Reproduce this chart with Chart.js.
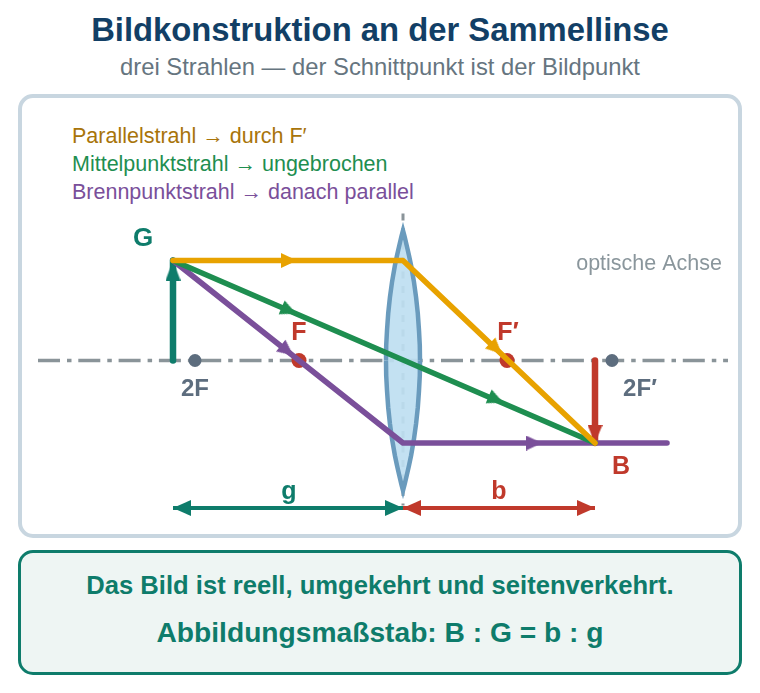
<!DOCTYPE html>
<html lang="de">
<head>
<meta charset="utf-8">
<title>Bildkonstruktion an der Sammellinse</title>
<script src="https://cdn.jsdelivr.net/npm/chart.js@4"></script>
<style>
  html, body { margin: 0; padding: 0; background: #fff; overflow: hidden; }
  body { width: 760px; height: 693px; position: relative; font-family: "Liberation Sans", Arial, sans-serif; }
  .txt { position: absolute; left: 0; width: 760px; text-align: center; white-space: nowrap; }
  #title { top: 10px; line-height: 40px; font-size: 32.8px; font-weight: bold; color: #123f66; }
  #subtitle { top: 53px; line-height: 28px; font-size: 23.8px; color: #66757f; }
  #panel { position: absolute; left: 18px; top: 94px; width: 716px; height: 436px; border: 4px solid #c8d6e0; border-radius: 15px; background: #fff; }
  #summary { position: absolute; left: 18px; top: 550px; width: 718px; height: 119px; border: 3px solid #0e7c6b; border-radius: 15px; background: #eef5f3; }
  #line1 { top: 569px; line-height: 32px; font-size: 25.6px; font-weight: bold; color: #0e7c6b; }
  #line2 { top: 613px; line-height: 38px; font-size: 28.2px; font-weight: bold; color: #0e7c6b; }
  .leg { position: absolute; left: 72px; line-height: 28px; font-size: 21.5px; white-space: nowrap; }
  #chart { position: absolute; left: 0; top: 0; }
</style>
</head>
<body>
<div class="txt" id="title">Bildkonstruktion an der Sammellinse</div>
<div class="txt" id="subtitle">drei Strahlen — der Schnittpunkt ist der Bildpunkt</div>
<div id="panel"></div>
<div id="summary"></div>
<div class="txt" id="line1">Das Bild ist reell, umgekehrt und seitenverkehrt.</div>
<div class="txt" id="line2">Abbildungsmaßstab: B : G = b : g</div>
<div class="leg" style="top:122px;color:#a8740a">Parallelstrahl → durch F′</div>
<div class="leg" style="top:150px;color:#1e8e50">Mittelpunktstrahl → ungebrochen</div>
<div class="leg" style="top:178px;color:#7a4f9a">Brennpunktstrahl → danach parallel</div>
<canvas id="chart" width="760" height="693"></canvas>
<script>
// alle Werte relativ zur Linsenmitte, x nach rechts, y nach oben
const axisLine = [[-365, 0], [325, 0]];
const lensAxis = [[0, 147], [0, -145]];

const lensTop = [[-17, 0], [-16.8, 15], [-16, 30], [-14.8, 47], [-13.1, 63], [-10.9, 79], [-8.1, 95], [-6, 105], [-3.7, 115], [-1.6, 124], [0, 130],
                 [1.6, 124], [3.7, 115], [6, 105], [8.1, 95], [10.9, 79], [13.1, 63], [14.8, 47], [16, 30], [16.8, 15], [17, 0]];
const lensBottom = [[-17, 0], [-16.8, -15], [-16, -30], [-14.8, -47], [-13.1, -63], [-10.9, -79], [-8.1, -95], [-6, -105], [-3.7, -115], [-1.6, -124], [0, -130],
                    [1.6, -124], [3.7, -115], [6, -105], [8.1, -95], [10.9, -79], [13.1, -63], [14.8, -47], [16, -30], [16.8, -15], [17, 0]];

const focusPoints = [[-104, 0], [104, 0]];
const doubleFocusPoints = [[-208, 0], [209, 0]];

const objectArrow = [[-230, 0], [-230, 100]];
const imageArrow = [[192, 0], [192, -82.5]];
const parallelRay = [[-230, 100], [0, 100], [192, -82.5]];
const centerRay = [[-230, 100], [192, -82.5]];
const focalRay = [[-230, 100], [0, -82.5], [264, -82.5]];
const objectDistance = [[-230, -147.5], [0, -147.5]];
const imageDistance = [[0, -147.5], [192, -147.5]];

const objectHead = [[-230, 90]];
const imageHead = [[192, -73.5]];
const parallelHeads = [[-114, 100], [93, 12]];
const parallelAngles = [90, 133.5];
const centerHeads = [[-114, 50], [93, -39]];
const centerAngles = [113.3, 113.3];
const focalHeads = [[-116, 10], [131, -82.5]];
const focalAngles = [128.4, 90];
const objectDistHeads = [[-221, -147.5], [-9, -147.5]];
const objectDistAngles = [-90, 90];
const imageDistHeads = [[9, -147.5], [183, -147.5]];
const imageDistAngles = [-90, 90];

const labelTexts = ['G', 'F', 'F′', '2F', '2F′', 'B', 'g', 'b', 'optische Achse'];
const labelX = [-260, -104, 105, -208, 237, 218, -114, 96, 319];
const labelY = [122, 27, 27, -29, -29, -107, -131.5, -131.5, 96];
const labelColors = ['#0e7c6b', '#c0392b', '#c0392b', '#5d6d7e', '#5d6d7e', '#c0392b', '#0e7c6b', '#c0392b', '#8a969c'];
const labelFonts = ['bold 26px', 'bold 25px', 'bold 25px', 'bold 24px', 'bold 24px', 'bold 25px', 'bold 25px', 'bold 25px', '21.5px'];
const labelAligns = ['center', 'center', 'center', 'center', 'center', 'center', 'center', 'center', 'right'];

const toXY = (pts) => pts.map(p => ({ x: p[0], y: p[1] }));

function line(pts, color, width, extra) {
    return Object.assign({
        type: 'scatter', showLine: true, data: toXY(pts), borderColor: color, borderWidth: width,
        pointRadius: 0, borderCapStyle: 'round', borderJoinStyle: 'round', fill: false, clip: false
    }, extra);
}

function marks(pts, color, radius, style, angles) {
    return {
        type: 'scatter', showLine: false, data: toXY(pts), pointStyle: style, pointRadius: radius,
        pointBackgroundColor: color, pointBorderWidth: 0, pointBorderColor: color, pointRotation: angles || 0, clip: false
    };
}

// Pfeilspitze als Bild, zeigt nach oben
function head(color, w, h) {
    const c = document.createElement('canvas');
    c.width = w;
    c.height = h;
    const g = c.getContext('2d');
    g.fillStyle = color;
    g.beginPath();
    g.moveTo(w / 2, 0);
    g.lineTo(w, h);
    g.lineTo(0, h);
    g.closePath();
    g.fill();
    return c;
}

const teal = '#0e7c6b', red = '#c0392b', yellow = '#e8a200', green = '#1e8e50', purple = '#7a4f9a', gray = '#8a9499', lens = '#6a9bbd';

// von hinten nach vorne
// langes borderDash bei der Linse: sonst nimmt Chart.js den Fast Path und die Spitze wird stumpf
const datasets = [
    line(axisLine, gray, 3.5, { borderDash: [22, 7, 4.5, 6.8], borderCapStyle: 'butt' }),
    line(lensAxis, gray, 3, { borderDash: [7, 7.5], borderCapStyle: 'butt' }),
    line(lensTop, lens, 4.5, { fill: '+1', backgroundColor: 'rgba(190,222,241,0.92)', borderCapStyle: 'butt', borderJoinStyle: 'miter', borderDash: [1000] }),
    line(lensBottom, lens, 4.5, { borderCapStyle: 'butt', borderJoinStyle: 'miter', borderDash: [1000] }),
    marks(focusPoints, red, 7.5, 'circle'),
    marks(doubleFocusPoints, '#5d6d7e', 6.5, 'circle'),
    line(objectArrow, teal, 6.5),
    marks(objectHead, teal, 10, head(teal, 15, 20)),
    line(imageArrow, red, 6.5),
    marks(imageHead, red, 10, head(red, 15, 18), 180),
    line(focalRay, purple, 5.6),
    line(centerRay, green, 5.6),
    line(parallelRay, yellow, 5.6),
    marks(parallelHeads, yellow, 10, head(yellow, 15, 16), parallelAngles),
    marks(centerHeads, green, 10, head(green, 15, 16), centerAngles),
    marks(focalHeads, purple, 10, head(purple, 15, 16), focalAngles),
    line(objectDistance, teal, 4, { borderCapStyle: 'butt' }),
    line(imageDistance, red, 4, { borderCapStyle: 'butt' }),
    marks(objectDistHeads, teal, 10, head(teal, 16, 18), objectDistAngles),
    marks(imageDistHeads, red, 10, head(red, 16, 18), imageDistAngles)
];
datasets.forEach((d, i) => { d.order = datasets.length - i; });

const labelPlugin = {
    id: 'labelPlugin',
    afterDatasetsDraw(chart) {
        const ctx = chart.ctx;
        ctx.save();
        ctx.textBaseline = 'middle';
        labelTexts.forEach((t, i) => {
            ctx.font = labelFonts[i] + ' "Liberation Sans", Arial, sans-serif';
            ctx.fillStyle = labelColors[i];
            ctx.textAlign = labelAligns[i];
            ctx.fillText(t, chart.scales.x.getPixelForValue(labelX[i]), chart.scales.y.getPixelForValue(labelY[i]));
        });
        ctx.restore();
    }
};

new Chart(document.getElementById('chart'), {
    type: 'scatter',
    data: { datasets },
    options: {
        responsive: false,
        animation: false,
        layout: { padding: 0, autoPadding: false },
        plugins: { legend: { display: false }, tooltip: { enabled: false } },
        scales: {
            x: { type: 'linear', min: -403, max: 357, display: false },
            y: { type: 'linear', min: -332.5, max: 360.5, display: false }
        }
    },
    plugins: [labelPlugin]
});
</script>
</body>
</html>
